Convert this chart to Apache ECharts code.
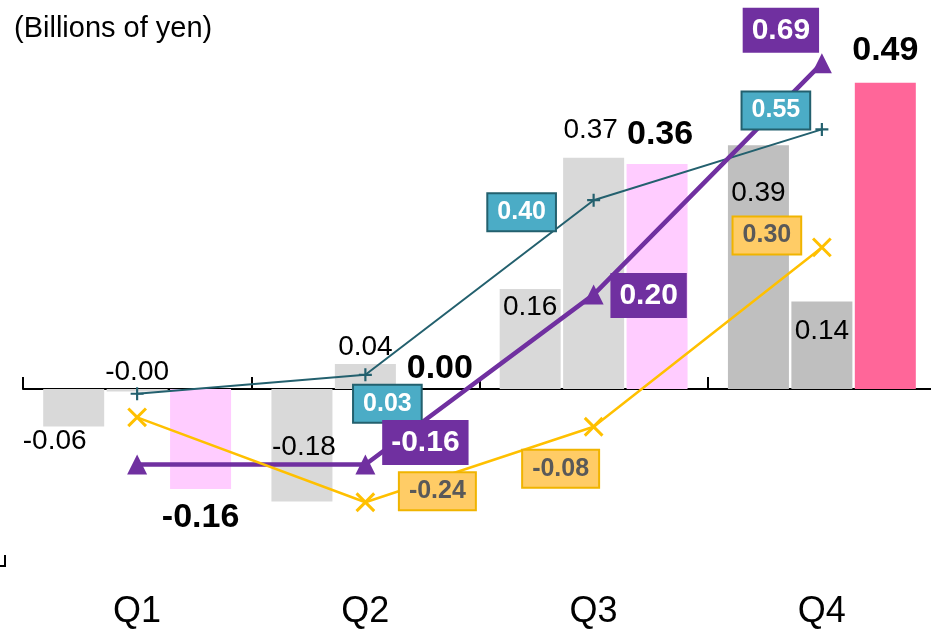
<!DOCTYPE html>
<html>
<head>
<meta charset="utf-8">
<script src="https://cdn.jsdelivr.net/npm/echarts@6/dist/echarts.min.js"></script>
<style>
  html, body { margin: 0; padding: 0; background: #ffffff; }
  #chart { width: 931px; height: 631px; }
</style>
</head>
<body>
<div id="chart"></div>
<script>
// Quarterly results, billions of yen
const quarters = ['Q1', 'Q2', 'Q3', 'Q4'];

// bars (primary scale)
const barPrev2 = [-0.06, -0.18, 0.16, 0.39];
const barPrev1 = [-0.004, 0.04, 0.37, 0.14];
const barCurrent = [-0.16, 0.00, 0.36, 0.49];

// lines (secondary scale)
const lineTeal = [-0.01, 0.03, 0.40, 0.55];
const linePurple = [-0.16, -0.16, 0.20, 0.69];
const lineYellow = [-0.06, -0.24, -0.08, 0.30];

const FONT = '"Liberation Sans", Arial, Helvetica, sans-serif';

// per-quarter label placement for the bar series
const prev2LabelPos = [
  { position: 'bottom', distance: 1, offset: [-19, 0] },
  { position: 'inside', offset: [2, 2] },
  { position: 'insideTop', distance: 4 },
  { position: 'insideTop', distance: 34 }
];
const prev1LabelPos = [
  { position: 'top', distance: 3 },
  { position: 'top', distance: 3 },
  { position: 'top', distance: 13, offset: [-3, 0] },
  { position: 'insideTop', distance: 16 }
];
const currentLabelPos = [
  { position: 'bottom', distance: 12 },
  { position: 'top', distance: 3, offset: [11, 0] },
  { position: 'top', distance: 12, offset: [3, 0] },
  { position: 'top', distance: 15 }
];

// per-quarter label offsets for the line series (null = no label)
const tealLabelPos = [null, [22, 29], [-72, 12], [-46, -19]];
const purpleLabelPos = [null, [60, -22], [55, 1], [-41, -33]];
const yellowLabelPos = [null, [72, -11], [-33, 42], [-55, -12]];

const fmt = p => Number(p.value).toFixed(2);

function barItems(values, placement) {
  return values.map((v, i) => ({ value: v, label: placement[i] }));
}
function lineItems(values, offsets) {
  return values.map((v, i) => offsets[i]
    ? { value: v, label: { show: true, position: 'inside', offset: offsets[i] } }
    : { value: v, label: { show: false } });
}

const plusPath = 'path://M5,0h2v12h-2zM0,5h12v2h-12z';
const crossPath = 'path://M11,0h3v25h-3zM0,11h25v3h-25z';

const chart = echarts.init(document.getElementById('chart'), null, { renderer: 'canvas' });

chart.setOption({
  backgroundColor: '#ffffff',
  animation: false,
  textStyle: { fontFamily: FONT },
  title: {
    text: '(Billions of yen)',
    left: 9,
    top: 9,
    textStyle: { fontFamily: FONT, fontSize: 29, fontWeight: 'normal', color: '#000000' }
  },
  grid: { left: 23, right: -5, top: 30, bottom: 51, containLabel: false, outerBoundsMode: 'none' },
  xAxis: [
    {
      type: 'category',
      data: quarters,
      position: 'bottom',
      axisLine: { show: true, onZero: true, lineStyle: { color: '#000000', width: 2 } },
      axisTick: { show: true, inside: true, length: 12, lineStyle: { color: '#000000', width: 2 } },
      axisLabel: { show: false },
      splitLine: { show: false }
    },
    {
      type: 'category',
      data: quarters,
      position: 'bottom',
      axisLine: { show: false, onZero: false },
      axisTick: { show: false },
      axisLabel: { show: true, margin: 14, fontSize: 36, color: '#000000', fontFamily: FONT },
      splitLine: { show: false }
    }
  ],
  yAxis: [
    { type: 'value', min: -0.3056, max: 0.5744, show: false },
    { type: 'value', min: -0.4047, max: 0.7606, show: false }
  ],
  graphic: [
    {
      type: 'polyline',
      shape: { points: [[0, 566], [5, 566], [5, 555]] },
      style: { stroke: '#000000', lineWidth: 2, fill: null }
    }
  ],
  series: [
    {
      name: 'Two years earlier',
      type: 'bar',
      xAxisIndex: 0,
      yAxisIndex: 0,
      barWidth: 61,
      barGap: '4%',
      itemStyle: { color: p => (p.dataIndex === 3 ? '#bfbfbf' : '#d9d9d9') },
      label: { show: true, formatter: fmt, fontSize: 28, color: '#000000', fontFamily: FONT },
      data: barItems(barPrev2, prev2LabelPos)
    },
    {
      name: 'Previous year',
      type: 'bar',
      xAxisIndex: 0,
      yAxisIndex: 0,
      barWidth: 61,
      barGap: '4%',
      itemStyle: { color: p => (p.dataIndex === 3 ? '#bfbfbf' : '#d9d9d9') },
      label: { show: true, formatter: fmt, fontSize: 28, color: '#000000', fontFamily: FONT },
      data: barItems(barPrev1, prev1LabelPos)
    },
    {
      name: 'Current year',
      type: 'bar',
      xAxisIndex: 0,
      yAxisIndex: 0,
      barWidth: 61,
      barGap: '4%',
      itemStyle: { color: p => (p.dataIndex === 3 ? '#ff6699' : '#ffccff') },
      label: { show: true, formatter: fmt, fontSize: 34, fontWeight: 'bold', color: '#000000', fontFamily: FONT },
      data: barItems(barCurrent, currentLabelPos)
    },
    {
      name: 'Teal',
      type: 'line',
      xAxisIndex: 0,
      yAxisIndex: 1,
      symbol: plusPath,
      symbolSize: 13,
      lineStyle: { color: '#23606e', width: 2 },
      itemStyle: { color: '#23606e' },
      label: {
        formatter: fmt, fontSize: 25, fontWeight: 'bold', color: '#ffffff', fontFamily: FONT,
        backgroundColor: '#4bacc6', borderColor: '#23606e', borderWidth: 2, padding: [6, 9, 5, 9]
      },
      data: lineItems(lineTeal, tealLabelPos)
    },
    {
      name: 'Purple',
      type: 'line',
      xAxisIndex: 0,
      yAxisIndex: 1,
      symbol: 'triangle',
      symbolSize: 20,
      lineStyle: { color: '#7030a0', width: 4.5 },
      itemStyle: { color: '#7030a0' },
      label: {
        formatter: fmt, fontSize: 30, fontWeight: 'bold', color: '#ffffff', fontFamily: FONT,
        backgroundColor: '#7030a0', padding: [8, 9, 7, 9]
      },
      data: lineItems(linePurple, purpleLabelPos)
    },
    {
      name: 'Yellow',
      type: 'line',
      xAxisIndex: 0,
      yAxisIndex: 1,
      symbol: crossPath,
      symbolSize: 25,
      symbolRotate: 45,
      lineStyle: { color: '#ffc000', width: 2.5 },
      itemStyle: { color: '#ffc000' },
      label: {
        formatter: fmt, fontSize: 25, fontWeight: 'bold', color: '#595959', fontFamily: FONT,
        backgroundColor: '#ffcc66', borderColor: '#f0b400', borderWidth: 2, padding: [6, 9, 5, 9]
      },
      data: lineItems(lineYellow, yellowLabelPos)
    }
  ]
});
</script>
</body>
</html>
